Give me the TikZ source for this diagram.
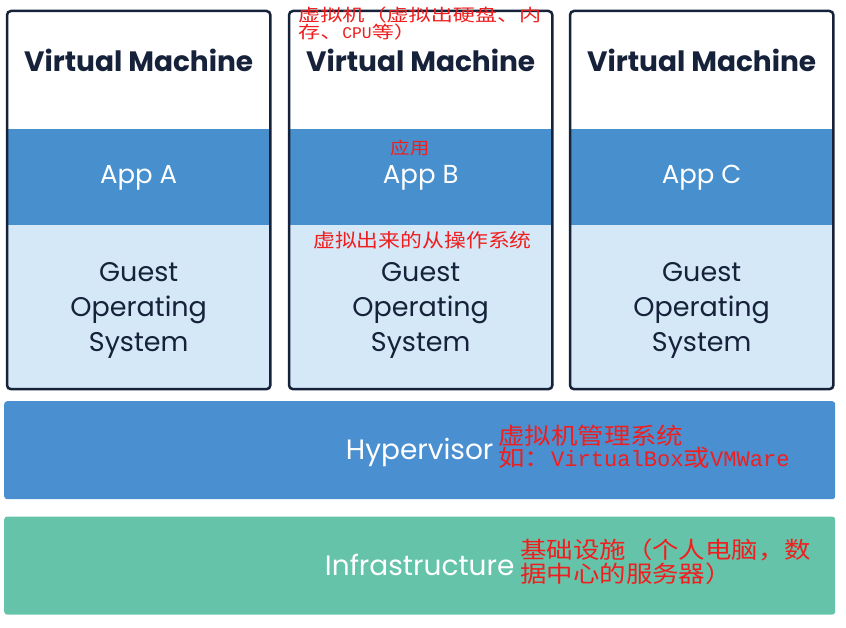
\documentclass[tikz,border=0pt]{standalone}
\usepackage{fontspec}
\setmainfont{Poppins}
\newfontfamily\cjk[FakeStretch=1.15]{Noto Sans CJK SC}
\newfontfamily\cjkwide[FakeStretch=1.3]{Noto Sans CJK SC}
\newfontfamily\notemono[Scale=0.96]{Liberation Mono}
\usetikzlibrary{positioning}

\definecolor{vmnavy}{HTML}{16213A}
\definecolor{appblue}{HTML}{4790CD}
\definecolor{osblue}{HTML}{D4E8F8}
\definecolor{hyperblue}{HTML}{4A8FD0}
\definecolor{infragreen}{HTML}{64C3A9}
\definecolor{notered}{HTML}{F01E1E}

\begin{document}
\begin{tikzpicture}[x=1pt, y=-1pt,
  band/.style={rectangle, inner sep=0pt, minimum width=263pt, anchor=north west, align=center},
  vmtop/.style={band, fill=white, minimum height=117pt},
  appband/.style={band, fill=appblue, minimum height=96pt, text=white, text height=14pt, text depth=0pt, font=\fontsize{26}{26}\selectfont},
  osband/.style={band, fill=osblue, minimum height=164pt, text=vmnavy, text height=89pt, text depth=0pt, font=\fontsize{27}{35}\selectfont},
  vmtitle/.style={inner sep=0pt, text=vmnavy, font=\bfseries\fontsize{28}{28}\selectfont},
  layer/.style={rectangle, rounded corners=3pt, minimum width=831pt, minimum height=98pt, anchor=north west, text=white, text height=19.5pt, text depth=0pt, font=\fontsize{28}{28}\selectfont},
  note/.style={text=notered, inner sep=0pt, anchor=north west, align=left}]

  \useasboundingbox (0,0) rectangle (846,628);

  % three virtual machines
  \foreach \n/\x in {A/7, B/289, C/570} {
    \node[vmtop] (top\n) at (\x,11) {};
    \node[vmtitle] (title\n) at ([yshift=-49pt]top\n.north) {Virtual Machine};
    \node[appband, below=0pt of top\n] (app\n) {App \n};
    \node[osband, below=0pt of app\n] (os\n) {Guest\\Operating\\System};
    \draw[vmnavy, line width=2.5pt, rounded corners=4pt] (top\n.north west) rectangle (os\n.south east);
  }

  \node[layer, fill=hyperblue] (hyper) at (4,401) {Hypervisor};
  \node[layer, fill=infragreen, below=17pt of hyper] (infra) {Infrastructure};

  % notes
  \node[note, font=\cjkwide\fontsize{17}{17}\selectfont] (vmnote) at (298,7) {虚拟机（虚拟出硬盘、内\\存、{\notemono CPU}等）};
  \node[note, font=\cjk\fontsize{17}{17}\selectfont] (appnote) at (390,140) {应用};
  \node[note, font=\cjk\fontsize{19}{19}\selectfont] (osnote) at (313,231) {虚拟出来的从操作系统};
  \node[note, font=\cjk\fontsize{23}{22}\selectfont] (hypernote) at (498,425) {虚拟机管理系统\\如：{\notemono VirtualBox}或{\notemono VMWare}};
  \node[note, font=\cjk\fontsize{23}{22}\selectfont] (infranote) at (520,539) {基础设施（个人电脑，数\\据中心的服务器）};
\end{tikzpicture}
\end{document}
